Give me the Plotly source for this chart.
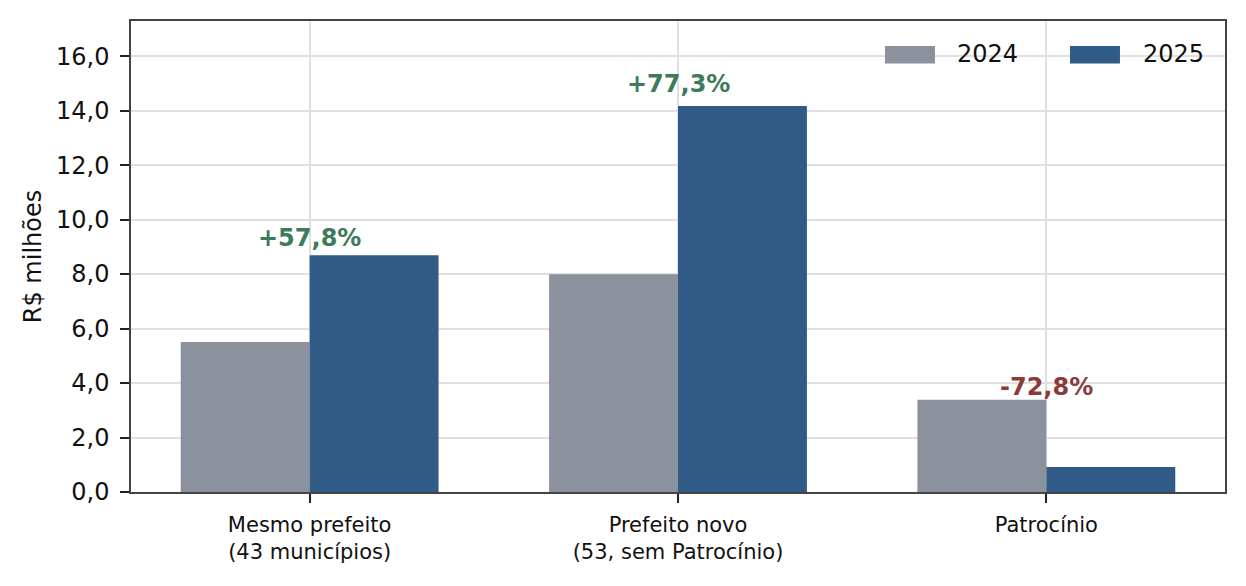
import plotly.graph_objects as go

# dados (R$ milhões)
categorias = ["Mesmo prefeito<br>(43 municípios)", "Prefeito novo<br>(53, sem Patrocínio)", "Patrocínio"]
anos = ["2024", "2025"]
valores_2024 = [5.51, 7.99, 3.39]
valores_2025 = [8.69, 14.17, 0.92]
variacoes = ["+57,8%", "+77,3%", "-72,8%"]

cores = {"2024": "#8b929d", "2025": "#2f5b86"}
verde = "#3d7b5b"
vermelho = "#8c3b3b"
fonte = "DejaVu Sans"

fig = go.Figure()
for ano, valores in zip(anos, [valores_2024, valores_2025]):
    fig.add_trace(
        go.Bar(
            name=ano,
            x=categorias,
            y=valores,
            marker=dict(color=cores[ano], line=dict(width=0)),
            showlegend=False,
        )
    )

# variação percentual acima de cada grupo
for cat, v24, v25, txt in zip(categorias, valores_2024, valores_2025, variacoes):
    fig.add_annotation(
        x=cat,
        y=max(v24, v25) * 1.03,
        text=f"<b>{txt}</b>",
        showarrow=False,
        yanchor="bottom",
        yshift=-6,
        font=dict(family=fonte, size=24, color=verde if txt.startswith("+") else vermelho),
    )

# legenda manual (retângulos largos como no original)
legenda_pos = [(0.6892, 0.7349, 0.7535), (0.8583, 0.9040, 0.9229)]
for ano, (x0, x1, xt) in zip(anos, legenda_pos):
    fig.add_shape(type="rect", xref="paper", yref="paper", x0=x0, x1=x1,
                  y0=0.9097, y1=0.9471, fillcolor=cores[ano], line=dict(width=0))
    fig.add_annotation(xref="paper", yref="paper", x=xt, y=0.929, text=ano,
                       showarrow=False, xanchor="left", yanchor="middle",
                       font=dict(family=fonte, size=24, color="#111"))

eixo = dict(
    showline=True, mirror=True, linecolor="#444", linewidth=1.5,
    showgrid=True, gridcolor="#e0e0e0", gridwidth=1.5,
    ticks="outside", ticklen=9, tickwidth=1.5, tickcolor="#222",
    zeroline=False,
)

# a página tem 8px de margem no body: figura um pouco menor para caber na janela
fig.update_layout(
    width=1238, height=578,
    margin=dict(l=123, r=21, t=11, b=94),
    paper_bgcolor="white", plot_bgcolor="white",
    barmode="group", bargap=0.3, bargroupgap=0,
    separators=",.",
    font=dict(family=fonte, color="#111"),
    xaxis=dict(**eixo, range=[-0.485, 2.485], tickfont=dict(size=21), ticklabelstandoff=4),
    yaxis=dict(**eixo, range=[0, 17.29], dtick=2, tickformat=".1f",
               tickfont=dict(size=24), ticklabelstandoff=6,
               title=dict(text="R$ milhões", font=dict(size=24), standoff=8)),
)

fig.write_html("out.html")
